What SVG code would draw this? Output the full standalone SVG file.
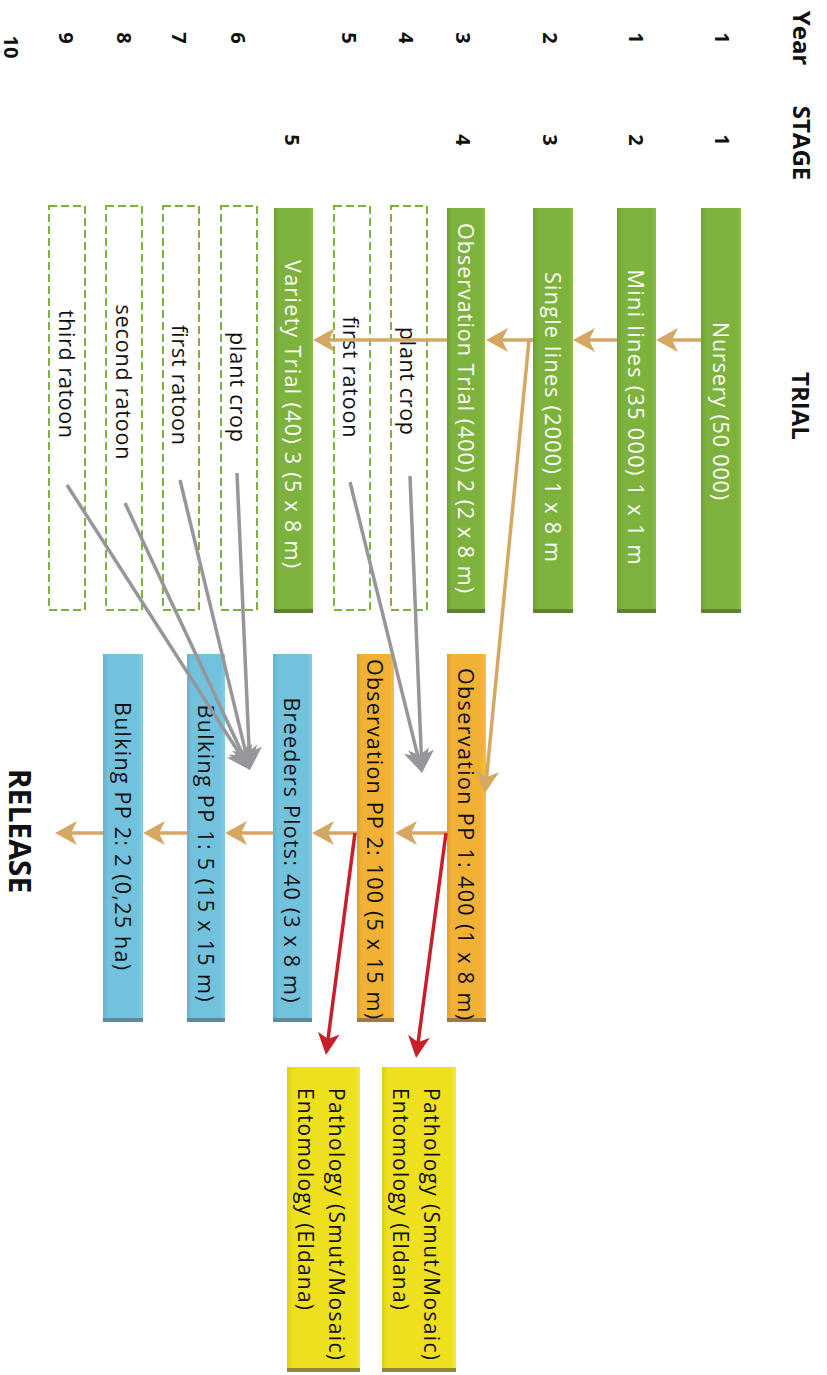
<svg xmlns="http://www.w3.org/2000/svg" width="827" height="1375" viewBox="0 0 827 1375">
<defs>
<style>
.lbl{font-family:"Open Sans","Noto Sans","DejaVu Sans",sans-serif;font-size:21.5px;text-anchor:middle;dominant-baseline:central}
.lbs{font-family:"Open Sans","Noto Sans","DejaVu Sans",sans-serif;font-size:21px;text-anchor:start;dominant-baseline:central;fill:#111}
.w{fill:#ffffff}
.k{fill:#111111}
.hd{font-family:"Open Sans","Noto Sans","DejaVu Sans",sans-serif;font-weight:bold;text-anchor:middle;dominant-baseline:central;fill:#111}
.h1{font-size:24px}
.h2{font-size:20px}
.h3{font-size:30px}
.green{fill:url(#gG)}
.orange{fill:url(#gO)}
.blue{fill:url(#gB)}
.yellow{fill:url(#gY)}
.dash{fill:#ffffff;stroke:#7DB23D;stroke-width:2;stroke-dasharray:8 4}
.sg{fill:#5E7F3A}
.so{fill:#9C7C38}
.sb{fill:#5C8C9C}
.sy{fill:#8E8A34}
.tan{fill:none;stroke:#D4A862;stroke-width:3.5}
.gray{fill:none;stroke:#96979A;stroke-width:3.5}
.red{fill:none;stroke:#C8202A;stroke-width:3.5}
</style>
<linearGradient id="gG" x1="0" y1="0" x2="1" y2="0">
<stop offset="0" stop-color="#6E9E34"/><stop offset="0.12" stop-color="#7DB23D"/><stop offset="0.88" stop-color="#7DB23D"/><stop offset="1" stop-color="#8ABE48"/>
</linearGradient>
<linearGradient id="gO" x1="0" y1="0" x2="1" y2="0">
<stop offset="0" stop-color="#DFA02A"/><stop offset="0.12" stop-color="#F0B135"/><stop offset="0.88" stop-color="#F0B135"/><stop offset="1" stop-color="#F6C048"/>
</linearGradient>
<linearGradient id="gB" x1="0" y1="0" x2="1" y2="0">
<stop offset="0" stop-color="#62B2CE"/><stop offset="0.12" stop-color="#72C2DE"/><stop offset="0.88" stop-color="#72C2DE"/><stop offset="1" stop-color="#84CCE4"/>
</linearGradient>
<linearGradient id="gY" x1="0" y1="0" x2="1" y2="0">
<stop offset="0" stop-color="#DCCE14"/><stop offset="0.08" stop-color="#EEE01E"/><stop offset="0.92" stop-color="#EEE01E"/><stop offset="1" stop-color="#F4E840"/>
</linearGradient>
<marker id="mTan" markerUnits="userSpaceOnUse" viewBox="-24 -14 26 28" markerWidth="26" markerHeight="28" refX="-8" refY="0" orient="auto">
<path d="M0,0 L-22,-12 L-16,0 L-22,12 Z" fill="#D4A862"/>
</marker>
<marker id="mGray" markerUnits="userSpaceOnUse" viewBox="-25 -15 27 30" markerWidth="27" markerHeight="30" refX="-8" refY="0" orient="auto">
<path d="M0,0 L-23,-13 L-17,0 L-23,13 Z" fill="#96979A"/>
</marker>
<marker id="mRed" markerUnits="userSpaceOnUse" viewBox="-24 -14 26 28" markerWidth="26" markerHeight="28" refX="-8" refY="0" orient="auto">
<path d="M0,0 L-22,-11 L-16,0 L-22,11 Z" fill="#C8202A"/>
</marker>
</defs>
<rect width="827" height="1375" fill="#ffffff"/>

<g id="headers">
<text class="hd h1" transform="translate(802,38) rotate(90)">Year</text>
<text class="hd h1" transform="translate(802,143) rotate(90)">STAGE</text>
<text class="hd h1" transform="translate(801,406) rotate(90)">TRIAL</text>
<text class="hd h3" transform="translate(20,831) rotate(90)">RELEASE</text>
</g>
<g id="year-col">
<text class="hd h2" transform="translate(722,38) rotate(90)">1</text>
<text class="hd h2" transform="translate(636,38) rotate(90)">1</text>
<text class="hd h2" transform="translate(550,38) rotate(90)">2</text>
<text class="hd h2" transform="translate(463,38) rotate(90)">3</text>
<text class="hd h2" transform="translate(406,38) rotate(90)">4</text>
<text class="hd h2" transform="translate(349,38) rotate(90)">5</text>
<text class="hd h2" transform="translate(238,38) rotate(90)">6</text>
<text class="hd h2" transform="translate(179,38) rotate(90)">7</text>
<text class="hd h2" transform="translate(124,38) rotate(90)">8</text>
<text class="hd h2" transform="translate(66,38) rotate(90)">9</text>
<text class="hd h2" transform="translate(11,47) rotate(90)">10</text>
</g>
<g id="stage-col">
<text class="hd h2" transform="translate(722,140) rotate(90)">1</text>
<text class="hd h2" transform="translate(636,140) rotate(90)">2</text>
<text class="hd h2" transform="translate(550,140) rotate(90)">3</text>
<text class="hd h2" transform="translate(463,140) rotate(90)">4</text>
<text class="hd h2" transform="translate(292,140) rotate(90)">5</text>
</g>

<g id="nursery">
<rect class="green" x="701" y="208" width="40" height="404"/><rect class="sg" x="701" y="609" width="40" height="4"/>
<text class="lbl w" transform="translate(721,411) rotate(90)" textLength="178">Nursery (50 000)</text>
</g>
<g id="mini-lines">
<rect class="green" x="617" y="208" width="39" height="404"/><rect class="sg" x="617" y="609" width="39" height="4"/>
<text class="lbl w" transform="translate(636,417) rotate(90)" textLength="295">Mini lines (35 000) 1 x 1 m</text>
</g>
<g id="single-lines">
<rect class="green" x="533" y="208" width="40" height="404"/><rect class="sg" x="533" y="609" width="40" height="4"/>
<text class="lbl w" transform="translate(553,417) rotate(90)" textLength="290">Single lines (2000) 1 x 8 m</text>
</g>
<g id="observation-trial">
<rect class="green" x="447" y="208" width="38" height="404"/><rect class="sg" x="447" y="609" width="38" height="4"/>
<text class="lbl w" transform="translate(466,408) rotate(90)" textLength="370">Observation Trial (400) 2 (2 x 8 m)</text>
</g>
<g id="variety-trial">
<rect class="green" x="274" y="208" width="39" height="404"/><rect class="sg" x="274" y="609" width="39" height="4"/>
<text class="lbl w" transform="translate(293,414) rotate(90)" textLength="308">Variety Trial (40) 3 (5 x 8 m)</text>
</g>

<g id="plant-crop-1">
<rect class="dash" x="391" y="206" width="36" height="404"/>
<text class="lbl k" transform="translate(408,381) rotate(90)" textLength="108">plant crop</text>
</g>
<g id="first-ratoon-1">
<rect class="dash" x="334" y="206" width="36" height="404"/>
<text class="lbl k" transform="translate(351,377) rotate(90)" textLength="121">first ratoon</text>
</g>
<g id="plant-crop-2">
<rect class="dash" x="221" y="206" width="36" height="404"/>
<text class="lbl k" transform="translate(238,387) rotate(90)" textLength="110">plant crop</text>
</g>
<g id="first-ratoon-2">
<rect class="dash" x="163" y="206" width="36" height="404"/>
<text class="lbl k" transform="translate(180,385) rotate(90)" textLength="120">first ratoon</text>
</g>
<g id="second-ratoon">
<rect class="dash" x="106" y="206" width="36" height="404"/>
<text class="lbl k" transform="translate(124,382) rotate(90)" textLength="155">second ratoon</text>
</g>
<g id="third-ratoon">
<rect class="dash" x="49" y="206" width="36" height="404"/>
<text class="lbl k" transform="translate(67,374) rotate(90)" textLength="128">third ratoon</text>
</g>

<g id="observation-pp1">
<rect class="orange" x="447" y="654" width="39" height="368"/><rect class="so" x="447" y="1018" width="39" height="4"/>
<text class="lbl k" transform="translate(466,844) rotate(90)" textLength="352">Observation PP 1: 400 (1 x 8 m)</text>
</g>
<g id="observation-pp2">
<rect class="orange" x="357" y="654" width="37" height="368"/><rect class="so" x="357" y="1018" width="37" height="4"/>
<text class="lbl k" transform="translate(375,839) rotate(90)" textLength="360">Observation PP 2: 100 (5 x 15 m)</text>
</g>
<g id="breeders-plots">
<rect class="blue" x="273" y="654" width="39" height="368"/><rect class="sb" x="273" y="1018" width="39" height="4"/>
<text class="lbl k" transform="translate(292,850) rotate(90)" textLength="305">Breeders Plots: 40 (3 x 8 m)</text>
</g>
<g id="bulking-pp1">
<rect class="blue" x="187" y="654" width="38" height="368"/><rect class="sb" x="187" y="1018" width="38" height="4"/>
<text class="lbl k" transform="translate(206,853) rotate(90)" textLength="297">Bulking PP 1: 5 (15 x 15 m)</text>
</g>
<g id="bulking-pp2">
<rect class="blue" x="103" y="654" width="40" height="368"/><rect class="sb" x="103" y="1018" width="40" height="4"/>
<text class="lbl k" transform="translate(123,836) rotate(90)" textLength="268">Bulking PP 2: 2 (0,25 ha)</text>
</g>

<g id="pathology-1">
<rect class="yellow" x="382" y="1067" width="74" height="305"/><rect class="sy" x="382" y="1368" width="74" height="4"/>
<text class="lbs" transform="translate(432,1088) rotate(90)" textLength="272">Pathology (Smut/Mosaic)</text>
<text class="lbs" transform="translate(401,1088) rotate(90)" textLength="222">Entomology (Eldana)</text>
</g>
<g id="pathology-2">
<rect class="yellow" x="287" y="1067" width="73" height="305"/><rect class="sy" x="287" y="1368" width="73" height="4"/>
<text class="lbs" transform="translate(337,1088) rotate(90)" textLength="272">Pathology (Smut/Mosaic)</text>
<text class="lbs" transform="translate(306,1088) rotate(90)" textLength="222">Entomology (Eldana)</text>
</g>

<g id="connectors">
<path class="tan" d="M701,340 H664" marker-end="url(#mTan)"/>
<path class="tan" d="M617,340 H581" marker-end="url(#mTan)"/>
<path class="tan" d="M533,340 H494" marker-end="url(#mTan)"/>
<path class="tan" d="M447,340 H321" marker-end="url(#mTan)"/>
<path class="tan" d="M533,340 H529 L485.8,785" marker-end="url(#mTan)"/>
<path class="tan" d="M447,833 H403" marker-end="url(#mTan)"/>
<path class="tan" d="M357,833 H320" marker-end="url(#mTan)"/>
<path class="tan" d="M273,833 H233" marker-end="url(#mTan)"/>
<path class="tan" d="M187,833 H151" marker-end="url(#mTan)"/>
<path class="tan" d="M103,833 H63" marker-end="url(#mTan)"/>
<path class="gray" d="M410,476 L421.7,765" marker-end="url(#mGray)"/>
<path class="gray" d="M350,482 L420.1,765.2" marker-end="url(#mGray)"/>
<path class="gray" d="M237,473 L249.65,762" marker-end="url(#mGray)"/>
<path class="gray" d="M180,480 L248.1,762.2" marker-end="url(#mGray)"/>
<path class="gray" d="M125,503 L246.6,762.8" marker-end="url(#mGray)"/>
<path class="gray" d="M67,485 L245.7,763.3" marker-end="url(#mGray)"/>
<path class="red" d="M446,833 L417.1,1050.1" marker-end="url(#mRed)"/>
<path class="red" d="M355,833 L327,1047" marker-end="url(#mRed)"/>
</g>
</svg>
